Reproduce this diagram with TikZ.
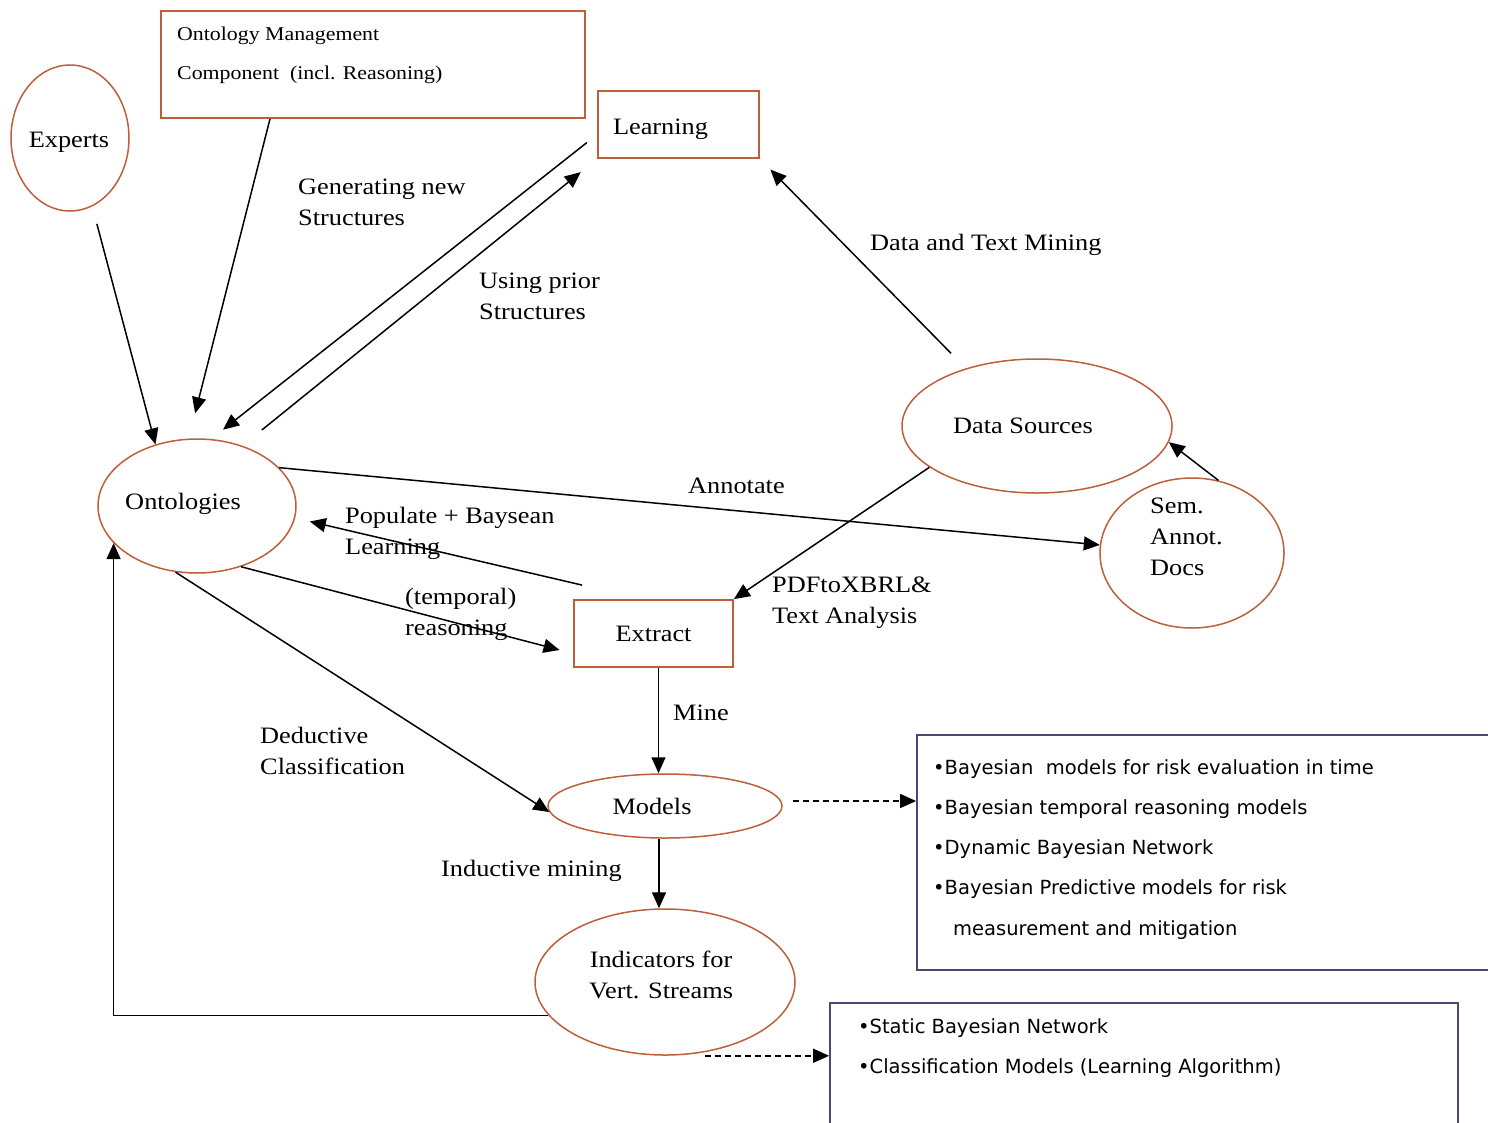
\documentclass[tikz,border=0pt]{standalone}
\usepackage{fontspec}
\setmainfont{Liberation Serif}[FakeStretch=1.12]
\newfontfamily\boxsans{DejaVu Sans}
\usetikzlibrary{arrows.meta,shapes.geometric,calc}
\definecolor{obrown}{RGB}{190,95,60}
\definecolor{bluegray}{RGB}{72,72,112}
\begin{document}
\begin{tikzpicture}[x=1pt,y=-1pt,
  ell/.style={ellipse,draw=obrown,line width=1.5pt,inner sep=0pt},
  obox/.style={rectangle,draw=obrown,line width=1.8pt,inner sep=0pt},
  bbox/.style={rectangle,draw=bluegray,line width=1.8pt,inner sep=0pt},
  txt/.style={inner sep=0pt,align=center,font=\fontsize{23.5}{31}\selectfont},
  lbl/.style={inner sep=0pt,anchor=west,align=left,font=\fontsize{23.5}{31}\selectfont},
  btxt/.style={inner sep=0pt,anchor=north west,align=left,font=\boxsans\fontsize{19.5}{40.3}\selectfont},
  arr/.style={-{Triangle[length=16pt,width=14pt]},line width=1.5pt},
  darr/.style={arr,dash pattern=on 6pt off 4pt},
]
\useasboundingbox (0,0) rectangle (1488,1122);
\clip (0,0) rectangle (1488,1122);
\fill[white] (0,0) rectangle (1488,1122);

% nodes
\node[ell,minimum width=118pt,minimum height=146pt] (experts) at (70,138) {};
\node[txt] (texperts) at (69,142) {Experts};
\node[obox,minimum width=424pt,minimum height=107pt] (omc) at (373,64.5) {};
\node[lbl,font=\fontsize{19.5}{39}\selectfont] (tomc) at (177,55) {Ontology Management\\Component \ (incl. Reasoning)};
\node[obox,minimum width=161pt,minimum height=67pt,text width=131pt,align=left,font=\fontsize{23.5}{31}\selectfont] (learn) at (678.5,124.5) {\raisebox{-5pt}[\height][\depth]{Learning}};
\node[ell,minimum width=270pt,minimum height=134pt] (ds) at (1037,426) {};
\node[txt] (tds) at (1023,426) {Data Sources};
\node[ell,minimum width=184pt,minimum height=150pt] (sem) at (1192,553) {};
\node[lbl] (tsem) at (1150,537) {Sem.\\Annot.\\Docs};
\node[ell,minimum width=198pt,minimum height=134pt] (onto) at (197,506) {};
\node[txt] (tonto) at (183,504) {Ontologies};
\node[obox,minimum width=159pt,minimum height=67pt,font=\fontsize{23.5}{31}\selectfont] (extract) at (653.5,633.5) {Extract};
\node[ell,minimum width=234pt,minimum height=64pt] (models) at (665,806) {};
\node[txt] (tmodels) at (652,806) {Models};
\node[ell,minimum width=260pt,minimum height=146pt] (ind) at (665,982) {};
\node[txt] (tind) at (661,975) {Indicators for\\Vert. Streams};
\node[bbox,minimum width=603pt,minimum height=235pt] (box1) at (1218.5,852.5) {};
\node[btxt] (tbox1) at (933,759) {•Bayesian \ models for risk evaluation in time\\•Bayesian temporal reasoning models\\•Dynamic Bayesian Network\\•Bayesian Predictive models for risk\\\hspace*{20pt}measurement and mitigation};
\node[bbox,minimum width=628pt,minimum height=160pt] (box2) at (1144,1083) {};
\node[btxt] (tbox2) at (858,1018) {•Static Bayesian Network\\•Classification Models (Learning Algorithm)};

% edge labels
\node[lbl] (lgen) at (298,202) {Generating new\\Structures};
\node[lbl] (luse) at (479,296) {Using prior\\Structures};
\node[lbl] (ldtm) at (870,245) {Data and Text Mining};
\node[lbl] (lann) at (688,486) {Annotate};
\node[lbl] (lpop) at (345,533) {Populate + Baysean\\Learning};
\node[lbl] (ltemp) at (405,614) {(temporal)\\reasoning};
\node[lbl] (lpdf) at (772,603) {PDFtoXBRL\&\\Text Analysis};
\node[lbl] (lmine) at (673,713) {Mine};
\node[lbl] (lded) at (260,751) {Deductive\\Classification};
\node[lbl] (lind) at (441,871) {Inductive mining};

% connectors
\draw[arr,shorten <=18pt] (experts.-72) -- (onto.124);
\coordinate (omcb) at ([xshift=-103pt]omc.south);
\draw[arr,shorten >=26pt] (omcb) -- (onto.97);
\draw[arr,shorten <=13pt,shorten >=15pt] ([yshift=-10pt]learn.west) -- (onto.78);
\draw[arr,shorten <=25pt,shorten >=21pt] (onto.53) -- (learn.south west);
\draw[arr,shorten <=21pt,shorten >=15pt] (ds.141) -- (learn.south east);
\draw[arr] (onto.25) -- (sem.175);
\draw[arr] (sem.70) -- (ds.-7);
\draw[arr] (ds.-159) -- (extract.north east);
\draw[arr,shorten >=15pt] ([shift={(9pt,14pt)}]extract.north west) -- (onto.-7);
\draw[arr,shorten >=14pt] (onto.-54) -- ([yshift=-20pt]extract.west);
\coordinate (exs) at ([xshift=5pt]extract.south);
\draw[arr] (exs) -- (exs |- models.north);
\draw[arr] (onto.-108) -- (models.183);
\coordinate (mds) at ([xshift=-6pt]models.south);
\draw[arr] (mds) -- (mds |- ind.north);
\draw[arr] (ind.196) -| (onto.204);
\coordinate (m1) at ([shift={(10pt,5pt)}]models.east);
\draw[darr] (m1) -- (m1 -| box1.west);
\coordinate (i1) at ([xshift=40pt]ind.south);
\draw[darr] (i1) -- (i1 -| box2.west);
\end{tikzpicture}
\end{document}
